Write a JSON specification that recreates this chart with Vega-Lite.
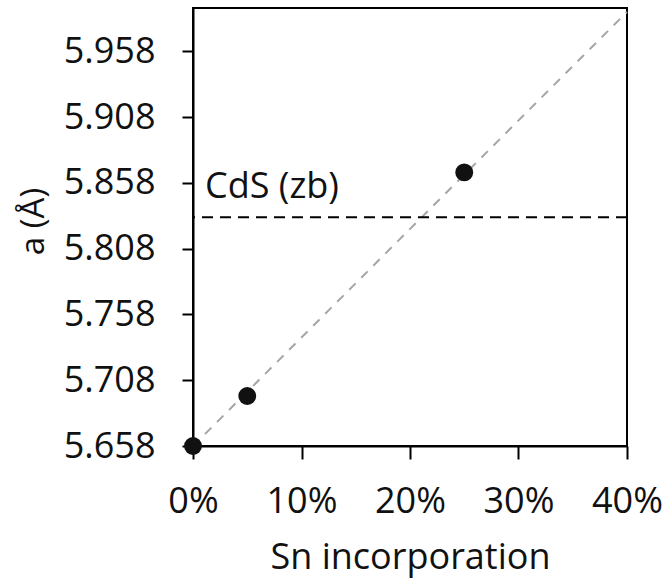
{
  "$schema": "https://vega.github.io/schema/vega-lite/v6.json",
  "width": 434,
  "height": 438,
  "autosize": {"type": "none"},
  "padding": {"left": 193, "top": 8, "right": 38, "bottom": 135},
  "background": "white",
  "view": {"stroke": "black", "strokeWidth": 2},
  "config": {
    "font": "Open Sans",
    "axis": {
      "labelFont": "Open Sans",
      "titleFont": "Open Sans",
      "labelFontSize": 36,
      "titleFontSize": 36,
      "labelColor": "#111",
      "titleColor": "#111",
      "titleFontWeight": "normal",
      "domainColor": "black",
      "domainWidth": 2,
      "tickColor": "black",
      "tickWidth": 2,
      "grid": false,
      "labelFlush": false,
      "labelOverlap": false
    }
  },
  "datasets": {
    "points": [
      {"sn": 0.0, "a": 5.658},
      {"sn": 0.05, "a": 5.696},
      {"sn": 0.25, "a": 5.866}
    ],
    "vegard": [
      {"sn": 0.0, "a": 5.658},
      {"sn": 0.4, "a": 5.988}
    ],
    "reference": [
      {"sn": 0.0, "a": 5.832, "label": "CdS (zb)"}
    ]
  },
  "layer": [
    {
      "data": {"name": "vegard"},
      "mark": {"type": "line", "color": "#a6a6a6", "strokeWidth": 2, "strokeDash": [9, 8]},
      "encoding": {
        "x": {
          "field": "sn", "type": "quantitative",
          "scale": {"domain": [0, 0.4], "nice": false, "zero": false},
          "axis": {
            "title": "Sn incorporation",
            "values": [0, 0.1, 0.2, 0.3, 0.4],
            "format": ".0%",
            "tickSize": 13,
            "labelPadding": 25,
            "titleBaseline": "alphabetic",
            "titleY": 122
          }
        },
        "y": {
          "field": "a", "type": "quantitative",
          "scale": {"domain": [5.658, 5.991], "nice": false, "zero": false},
          "axis": {
            "title": "a (Å)",
            "values": [5.658, 5.708, 5.758, 5.808, 5.858, 5.908, 5.958],
            "format": ".3f",
            "tickSize": 11,
            "labelPadding": 27,
            "titleFontSize": 33,
            "titleBaseline": "alphabetic",
            "titleAngle": -90,
            "titleAlign": "center",
            "titleX": -150,
            "titleY": 213
          }
        }
      }
    },
    {
      "data": {"name": "reference"},
      "mark": {"type": "rule", "color": "black", "strokeWidth": 2, "strokeDash": [11, 7]},
      "encoding": {
        "y": {"field": "a", "type": "quantitative"}
      }
    },
    {
      "data": {"name": "reference"},
      "mark": {"type": "text", "align": "left", "baseline": "alphabetic", "dx": 12, "dy": -19, "fontSize": 36, "font": "Open Sans", "color": "#111"},
      "encoding": {
        "x": {"field": "sn", "type": "quantitative"},
        "y": {"field": "a", "type": "quantitative"},
        "text": {"field": "label"}
      }
    },
    {
      "data": {"name": "points"},
      "mark": {"type": "point", "filled": true, "shape": "circle", "size": 320, "color": "#111", "opacity": 1},
      "encoding": {
        "x": {"field": "sn", "type": "quantitative"},
        "y": {"field": "a", "type": "quantitative"}
      }
    }
  ]
}
